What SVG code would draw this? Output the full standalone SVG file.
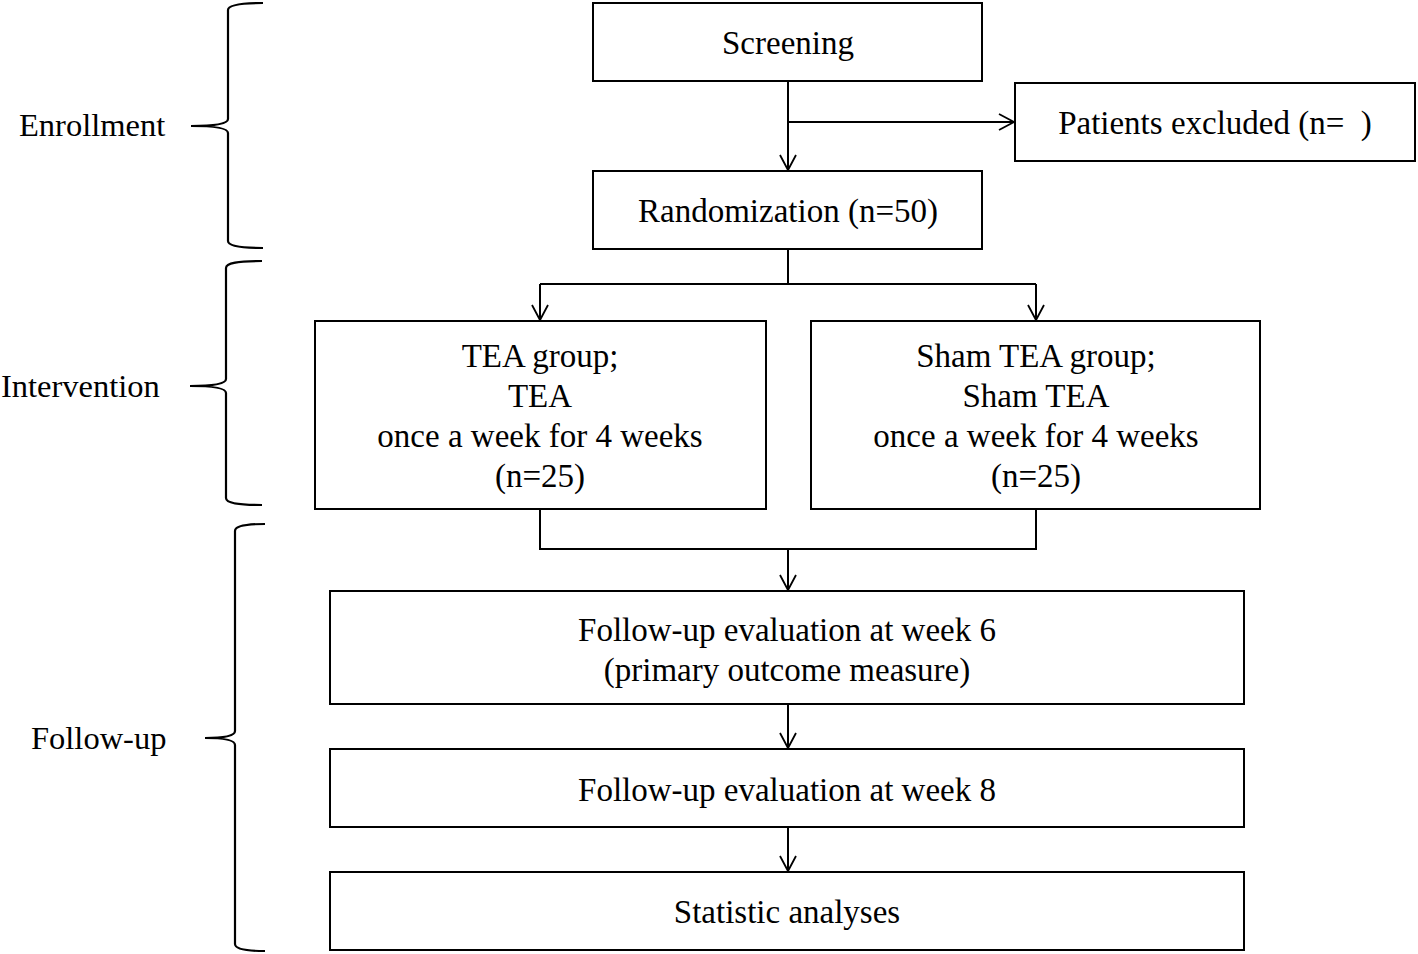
<svg xmlns="http://www.w3.org/2000/svg" width="1418" height="954" viewBox="0 0 1418 954">
<style>
.box{fill:#fff;stroke:#000;stroke-width:2}
.t{font-family:"Liberation Serif","Times New Roman",serif;font-size:33px;fill:#000;text-anchor:middle}
.l{font-family:"Liberation Serif","Times New Roman",serif;font-size:32.5px;fill:#000}
.c{fill:none;stroke:#000;stroke-width:2}
.br{fill:none;stroke:#000;stroke-width:2.2}
</style>
<defs>
<marker id="a" markerWidth="20" markerHeight="20" refX="16" refY="9" orient="auto" markerUnits="userSpaceOnUse">
<path d="M1,1 L16,9 L1,17" fill="none" stroke="#000" stroke-width="1.8"/>
</marker>
</defs>
<rect width="1418" height="954" fill="#fff"/>
<g id="braces">
<path class="br" d="M263,3 C240,3 228,5 228,10 L228,119 C228,124 215,126 191,126 C215,126 228,128 228,133 L228,241 C228,246 240,248 263,248"/>
<path class="br" d="M262,261 C238,261 226,263 226,268 L226,379 C226,384 213,386 190,386 C213,386 226,388 226,393 L226,498 C226,503 238,505 262,505"/>
<path class="br" d="M265,524 C247,524 235,526 235,531 L235,731 C235,736 225,738 205,738 C225,738 235,740 235,745 L235,944 C235,949 247,951 265,951"/>
</g>
<g id="labels">
<text class="l" x="19" y="136">Enrollment</text>
<text class="l" x="1" y="397">Intervention</text>
<text class="l" x="31" y="749">Follow-up</text>
</g>
<g id="connectors">
<path class="c" d="M788,81 L788,170" marker-end="url(#a)"/>
<path class="c" d="M788,122 L1014,122" marker-end="url(#a)"/>
<path class="c" d="M788,249 L788,284 M540,284 L1036,284"/>
<path class="c" d="M540,284 L540,320" marker-end="url(#a)"/>
<path class="c" d="M1036,284 L1036,320" marker-end="url(#a)"/>
<path class="c" d="M540,509 L540,549 L1036,549 L1036,509"/>
<path class="c" d="M788,549 L788,590" marker-end="url(#a)"/>
<path class="c" d="M788,704 L788,748" marker-end="url(#a)"/>
<path class="c" d="M788,827 L788,871" marker-end="url(#a)"/>
</g>
<g id="screening">
<rect class="box" x="593" y="3" width="389" height="78"/>
<text class="t" x="788" y="54">Screening</text>
</g>
<g id="excluded">
<rect class="box" x="1015" y="83" width="400" height="78"/>
<text class="t" x="1215" y="134" xml:space="preserve">Patients excluded (n=  )</text>
</g>
<g id="randomization">
<rect class="box" x="593" y="171" width="389" height="78"/>
<text class="t" x="788" y="222">Randomization (n=50)</text>
</g>
<g id="tea">
<rect class="box" x="315" y="321" width="451" height="188"/>
<text class="t" x="540" y="367">TEA group;</text>
<text class="t" x="540" y="407">TEA</text>
<text class="t" x="540" y="447">once a week for 4 weeks</text>
<text class="t" x="540" y="487">(n=25)</text>
</g>
<g id="sham">
<rect class="box" x="811" y="321" width="449" height="188"/>
<text class="t" x="1036" y="367">Sham TEA group;</text>
<text class="t" x="1036" y="407">Sham TEA</text>
<text class="t" x="1036" y="447">once a week for 4 weeks</text>
<text class="t" x="1036" y="487">(n=25)</text>
</g>
<g id="week6">
<rect class="box" x="330" y="591" width="914" height="113"/>
<text class="t" x="787" y="641">Follow-up evaluation at week 6</text>
<text class="t" x="787" y="681">(primary outcome measure)</text>
</g>
<g id="week8">
<rect class="box" x="330" y="749" width="914" height="78"/>
<text class="t" x="787" y="801">Follow-up evaluation at week 8</text>
</g>
<g id="stats">
<rect class="box" x="330" y="872" width="914" height="78"/>
<text class="t" x="787" y="923">Statistic analyses</text>
</g>
</svg>
